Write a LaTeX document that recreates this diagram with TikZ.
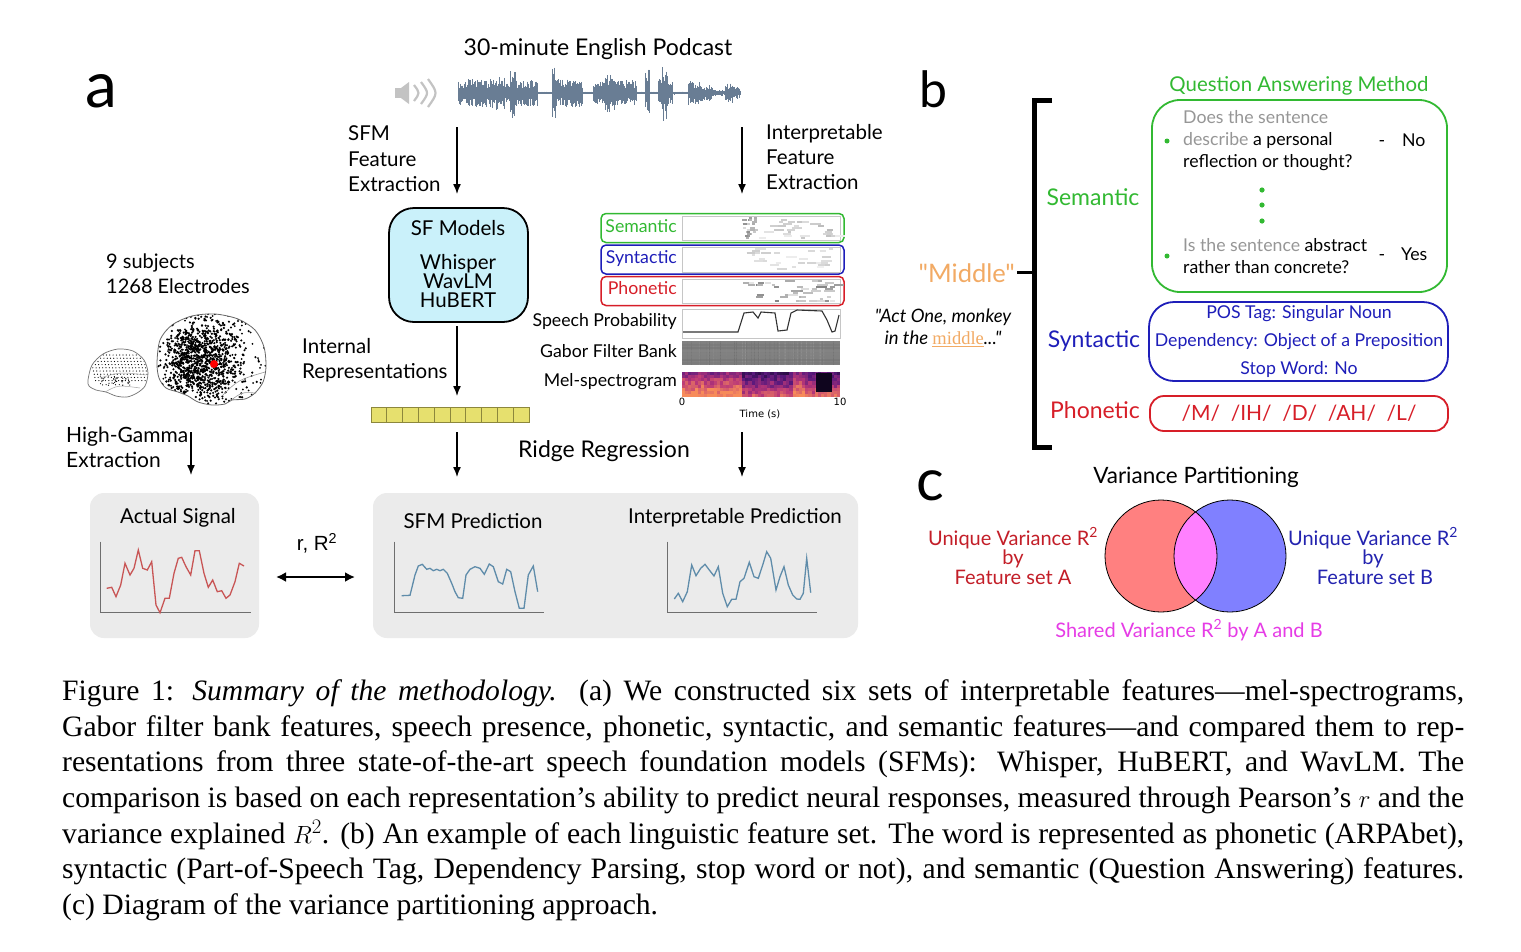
\documentclass[tikz,border=0pt]{standalone}
\usepackage{fontspec}
\setmainfont{Liberation Serif}
\newfontfamily\lato{Lato}
\newfontfamily\arialf{Liberation Sans}
\newfontfamily\djv{DejaVu Sans}
\usetikzlibrary{arrows.meta}
\newcommand\fsz[1]{\fontsize{#1}{#1}\selectfont}
\definecolor{semg}{RGB}{50,185,50}
\definecolor{synb}{RGB}{30,30,185}
\definecolor{phor}{RGB}{215,30,40}
\definecolor{midor}{RGB}{242,170,100}
\definecolor{graybox}{RGB}{235,235,235}
\definecolor{sfcyan}{RGB}{202,241,250}
\definecolor{yel}{RGB}{230,224,110}
\definecolor{yelb}{RGB}{140,135,60}
\definecolor{wavec}{RGB}{105,125,148}
\definecolor{sigred}{RGB}{200,85,85}
\definecolor{sigblue}{RGB}{95,140,170}
\definecolor{axisg}{RGB}{110,110,110}
\definecolor{qgray}{RGB}{150,150,150}
\definecolor{vred}{RGB}{255,128,128}
\definecolor{vblue}{RGB}{128,128,255}
\definecolor{vmag}{RGB}{255,128,255}
\definecolor{txtred}{RGB}{195,30,40}
\definecolor{txtblue}{RGB}{35,35,175}
\definecolor{txtmag}{RGB}{230,60,230}
\definecolor{spk}{RGB}{195,195,195}
\definecolor{mg1}{RGB}{25,8,50}
\definecolor{mg2}{RGB}{90,25,125}
\definecolor{mg3}{RGB}{185,55,120}
\definecolor{mg4}{RGB}{248,140,90}
\begin{document}
\begin{tikzpicture}[x=1pt,y=-1pt,
  lab/.style={inner sep=0pt, yshift=-4pt, font=\lato\fsz{20.5}},
  lab21/.style={inner sep=0pt, yshift=-3.5pt, font=\lato\fsz{23}},
  flab/.style={inner sep=0pt, yshift=-1.5pt, font=\lato\fsz{17.7}},
  qa/.style={inner sep=0pt, yshift=-2pt, font=\lato\fsz{17.7}},
  venn/.style={inner sep=0pt, yshift=-3pt, font=\lato\fsz{20}},
  big/.style={inner sep=0pt, font=\lato\fsz{52}},
  capline/.style={inner sep=0pt, anchor=base west, font=\fsz{29.6}},
  arr/.style={-{Latex[length=10pt,width=8pt]}, line width=1.4pt},
  fbox/.style={rounded corners=5pt, line width=1.5pt, minimum width=243pt, minimum height=29pt, inner sep=0pt},
  gbox/.style={fill=graybox, rounded corners=14pt, minimum height=145pt, inner sep=0pt},
  axisline/.style={axisg, line width=1.2pt},
  wave/.style={wavec, line width=0.9pt},
  imgframe/.style={draw=gray!45, line width=0.5pt, fill=white}
]
\useasboundingbox (0,0) rectangle (1521,951);
\fill[white] (0,0) rectangle (1521,951);
\pgfmathsetseed{7}

% ---------------- panel labels
\node[big, font=\lato\fsz{64}] (pa) at (101,91) {a};
\node[big, font=\lato\fsz{50}] (pb) at (933,89) {b};
\node[big, font=\lato\fsz{58}] (pc) at (930,486) {c};

% ---------------- podcast
\node[lab21, anchor=mid] (pod) at (598,50) {30-minute English Podcast};
\fill[spk] (395,88) rectangle (401,98);
\fill[spk] (401,88) -- (409,82) -- (409,104) -- (401,98) -- cycle;
\draw[spk, line width=2.2pt] (414,85) .. controls (420,93) .. (414,101);
\draw[spk, line width=2.2pt] (421,82) .. controls (429,93) .. (421,104);
\draw[spk, line width=2.2pt] (428,79) .. controls (438,93) .. (428,107);
\draw[wavec, line width=1pt] (458,93) -- (740,93);
\foreach \xa/\xb/\amp in {458/468/12, 468/490/14, 490/505/17, 505/510/10, 510/516/27, 516/537/13, 537/552/1.5, 552/556/27, 556/583/14, 583/593/1.5, 593/605/14, 605/615/19, 615/637/13, 637/645/1.5, 645/650/24, 650/658/1.5, 658/662/14, 662/668/28, 668/673/12, 673/688/1.5, 688/700/12, 700/713/8, 713/725/3, 725/733/10, 733/740/6} {
  \pgfmathtruncatemacro\nn{(\xb-\xa)/0.7}
  \foreach \k in {0,...,\nn} {
    \pgfmathsetmacro\xx{\xa+0.7*\k}
    \pgfmathsetmacro\up{\amp*(0.35+0.65*rnd)}
    \pgfmathsetmacro\dn{\amp*(0.35+0.65*rnd)}
    \draw[wave] (\xx,93-\up) -- (\xx,93+\dn);
  }
}

% ---------------- extraction arrows and labels
\coordinate (a1s) at (457,127); \coordinate (a1e) at (457,194);
\coordinate (a2s) at (742,127); \coordinate (a2e) at (742,194);
\draw[arr] (a1s) -- (a1e);
\draw[arr] (a2s) -- (a2e);
\node[lab, anchor=mid west] (sfm1) at (348,134) {SFM};
\node[lab, anchor=mid west] (sfm2) at (348,160) {Feature};
\node[lab, anchor=mid west] (sfm3) at (348,185) {Extraction};
\node[lab, anchor=mid west] (ife1) at (766,133) {Interpretable};
\node[lab, anchor=mid west] (ife2) at (766,158) {Feature};
\node[lab, anchor=mid west] (ife3) at (766,183) {Extraction};

% ---------------- SF models box
\node[draw, fill=sfcyan, rounded corners=25pt, line width=1.8pt, minimum width=139pt, minimum height=114pt, inner sep=0pt] (sf) at (458.5,265) {};
\node[lab, anchor=mid] (sft) at (458,229) {SF Models};
\node[lab, anchor=mid] (sfw) at (458,263) {Whisper};
\node[lab, anchor=mid] (sfv) at (458,282) {WavLM};
\node[lab, anchor=mid] (sfh) at (458,301) {HuBERT};

\coordinate (a3s) at (457,326); \coordinate (a3e) at (457,396);
\draw[arr] (a3s) -- (a3e);
\node[lab, anchor=mid west] (ir1) at (302,347) {Internal};
\node[lab, anchor=mid west] (ir2) at (302,372) {Representations};
\foreach \i in {0,...,9} {
  \draw[fill=yel, draw=yelb, line width=0.8pt] (371+\i*15.8,407) rectangle ++(15.8,15);
}
\coordinate (a4s) at (457,432); \coordinate (a4e) at (457,477);
\coordinate (a5s) at (742,432); \coordinate (a5e) at (742,477);
\draw[arr] (a4s) -- (a4e);
\draw[arr] (a5s) -- (a5e);
\node[lab21, anchor=mid] (ridge) at (604,452) {Ridge Regression};

% ---------------- interpretable features
\node[fbox, draw=semg] (fsem) at (722.5,228) {};
\node[fbox, draw=synb] (fsyn) at (722.5,259.5) {};
\node[fbox, draw=phor] (fpho) at (722.5,291) {};
\draw[imgframe] (682,216) rectangle (840,240);
\draw[imgframe] (682,247) rectangle (840,272);
\draw[imgframe] (682,279) rectangle (840,303);
\node[flab, anchor=mid east, text=semg] (lsem) at (677,229) {Semantic};
\node[flab, anchor=mid east, text=synb] (lsyn) at (677,260) {Syntactic};
\node[flab, anchor=mid east, text=phor] (lpho) at (677,291) {Phonetic};
\node[flab, anchor=mid east] (lsp) at (677,323) {Speech Probability};
\node[flab, anchor=mid east] (lgb) at (677,354) {Gabor Filter Bank};
\node[flab, anchor=mid east] (lmel) at (677,383) {Mel-spectrogram};
% semantic marks
\foreach \i in {1,...,40} {
  \pgfmathsetmacro\xx{742+rnd*13}
  \pgfmathsetmacro\yy{218+floor(rnd*11)*2}
  \pgfmathtruncatemacro\gg{15+rnd*30}
  \draw[black!\gg, line width=1.3pt] (\xx,\yy) -- ++(3,0);
}
\foreach \i in {1,...,30} {
  \pgfmathsetmacro\xx{758+rnd*78}
  \pgfmathsetmacro\yy{218+floor(rnd*11)*2}
  \pgfmathtruncatemacro\gg{8+rnd*20}
  \draw[black!\gg, line width=1.2pt] (\xx,\yy) -- ++(3+rnd*8,0);
}
% syntactic marks
\foreach \i in {1,...,30} {
  \pgfmathsetmacro\xx{745+rnd*90}
  \pgfmathsetmacro\yy{249+floor(rnd*11)*2}
  \pgfmathtruncatemacro\gg{6+rnd*15}
  \draw[black!\gg, line width=1.2pt] (\xx,\yy) -- ++(3+rnd*8,0);
}
% phonetic marks
\foreach \i in {1,...,45} {
  \pgfmathsetmacro\xx{742+rnd*93}
  \pgfmathsetmacro\yy{281+floor(rnd*11)*2}
  \pgfmathtruncatemacro\gg{10+rnd*40}
  \draw[black!\gg, line width=1.2pt] (\xx,\yy) -- ++(3+rnd*8,0);
}
% speech probability
\draw[imgframe] (682,309) rectangle (840,338);
\draw[black!80, line width=1.1pt] plot coordinates {(683,332) (738,332) (744,313) (753,312) (758,318) (761,312) (775,313) (778,331) (787,330) (791,313) (797,310) (822,311) (827,320) (832,332) (835,331) (839,315)};
% gabor
\fill[black!50] (682,341) rectangle (840,365);
\foreach \i in {1,...,70} {
  \pgfmathsetmacro\xx{682.5+rnd*157}
  \pgfmathtruncatemacro\gg{44+rnd*12}
  \draw[black!\gg, line width=0.6pt] (\xx,341) -- (\xx,365);
}
\foreach \r in {0,...,7} {
  \pgfmathtruncatemacro\gg{46+rnd*10}
  \fill[black!\gg, opacity=0.5] (682,341+\r*3) rectangle (840,342.5+\r*3);
}
% mel spectrogram
\foreach \c in {0,...,49} {
  \foreach \r in {0,...,7} {
    \pgfmathsetmacro\xx{682+\c*3.16}
    \pgfmathsetmacro\yy{372+\r*3.125}
    \pgfmathsetmacro\tt{min(0.999,max(0,0.36+0.08*\r+0.28*rnd-0.28*((\xx>740)*(\xx<792))-0.2*((\xx>805)*(\xx<838))))}
    \pgfmathtruncatemacro\seg{min(2,floor(3*\tt))}
    \pgfmathtruncatemacro\pc{(3*\tt-\seg)*100}
    \ifcase\seg \colorlet{cc}{mg2!\pc!mg1}\or \colorlet{cc}{mg3!\pc!mg2}\else \colorlet{cc}{mg4!\pc!mg3}\fi
    \fill[cc] (\xx,\yy) rectangle ++(3.3,3.25);
  }
}
\fill[mg1!60!black] (816,373) rectangle (832,392);
\node[inner sep=0pt, font=\djv\fsz{10}, anchor=mid] (t0) at (682,403) {0};
\node[inner sep=0pt, font=\djv\fsz{10}, anchor=mid] (t10) at (840,403) {10};
\node[inner sep=0pt, font=\djv\fsz{10}, anchor=mid] (tlab) at (760,415) {Time (s)};

% ---------------- brain
\node[lab, anchor=mid west, font=\lato\fsz{20}] (subj1) at (106,262) {9 subjects};
\node[lab, anchor=mid west, font=\lato\fsz{20}] (subj2) at (106,287) {1268 Electrodes};
% small brain
\begin{scope}
\clip plot[smooth cycle] coordinates {(88,380) (92,365) (103,354) (118,349) (133,351) (144,360) (148,373) (145,386) (137,393) (127,397) (116,396) (106,392) (96,390) (89,386)};
\foreach \r in {0,...,8} { \foreach \c in {0,...,16} { \fill (90+\c*3.3+\r*0.7, 355+\r*3.2) circle (0.6pt); } }
\foreach \i in {1,...,40} { \fill (100+rnd*30, 376+rnd*10) circle (0.6pt); }
\end{scope}
\draw[black!55, line width=0.7pt] plot[smooth cycle] coordinates {(88,380) (92,365) (103,354) (118,349) (133,351) (144,360) (148,373) (145,386) (137,393) (127,397) (116,396) (106,392) (96,390) (89,386)};
\draw[black!35, line width=0.5pt] (105,392) .. controls (118,385) .. (140,388);
\draw[black!35, line width=0.5pt] (100,378) .. controls (120,372) .. (146,375);
% big brain
\begin{scope}
\clip plot[smooth cycle] coordinates {(157,363) (160,340) (172,325) (192,316) (215,314) (238,319) (255,330) (264,347) (266,367) (263,382) (255,393) (245,399) (232,400) (225,404) (212,405) (198,402) (188,396) (178,392) (166,388) (159,378)};
\foreach \i in {1,...,1100} {
  \pgfmathsetmacro\dx{(rnd+rnd+rnd-1.5)*40}
  \pgfmathsetmacro\dy{(rnd+rnd+rnd-1.5)*40}
  \fill (201+\dx,360+\dy) circle (1.2pt);
}
\foreach \i in {1,...,130} { \fill (157+rnd*110, 314+rnd*90) circle (1pt); }
\end{scope}
\draw[black!60, line width=0.8pt] plot[smooth cycle] coordinates {(157,363) (160,340) (172,325) (192,316) (215,314) (238,319) (255,330) (264,347) (266,367) (263,382) (255,393) (245,399) (232,400) (225,404) (212,405) (198,402) (188,396) (178,392) (166,388) (159,378)};
\draw[black!40, line width=0.6pt] (222,396) .. controls (238,380) .. (265,372);
\draw[black!40, line width=0.6pt] (230,401) .. controls (242,392) .. (256,393);
\fill[red] (214,364) circle (4pt);

% ---------------- high gamma
\node[lab, anchor=mid west, font=\lato\fsz{21}] (hg1) at (66,436) {High-Gamma};
\node[lab, anchor=mid west, font=\lato\fsz{21}] (hg2) at (66,461) {Extraction};
\coordinate (a6s) at (191,432); \coordinate (a6e) at (191,475);
\draw[arr] (a6s) -- (a6e);

% ---------------- bottom boxes
\node[gbox, minimum width=169pt] (actbox) at (174.5,565.5) {};
\node[gbox, minimum width=485pt] (predbox) at (615.5,565.5) {};
\node[lab, anchor=mid] (act) at (178,517) {Actual Signal};
\node[lab, anchor=mid] (sfmp) at (473,522) {SFM Prediction};
\node[lab, anchor=mid] (intp) at (735,517) {Interpretable Prediction};
\draw[axisline] (100.7,541.7) -- (100.7,612.7) -- (250.7,612.7);
\draw[axisline] (394.3,541.7) -- (394.3,612.7) -- (544,612.7);
\draw[axisline] (667.3,541.7) -- (667.3,612.7) -- (816.7,612.7);
\draw[sigred, line width=1.3pt] plot coordinates {(106.7,588.3) (111.7,587.3) (116,596.7) (120.7,585) (125,563.3) (130,575) (134,568.3) (138.3,550) (142.7,568.3) (147.3,570) (151.7,561.7) (156,605) (160,612.7) (165,598.3) (169.3,598.3) (174,573.3) (178.3,558.3) (181.7,557.3) (186,566.7) (190.7,575) (195,550.7) (199.3,550.7) (204,573.3) (208.3,587.3) (212.7,580) (217.3,591.7) (221.7,590.7) (226,598.3) (230,595) (235,581.7) (239.3,563.3) (244,566)};
\draw[sigblue, line width=1.3pt] plot coordinates {(401.7,595.7) (410,595.3) (415,575) (418.3,566) (422.3,564.3) (426.7,569.3) (430,568.3) (433.3,570.7) (436.7,569.3) (440,570.7) (443.3,569.3) (447.3,573.3) (451.7,583.3) (455,591.7) (458.3,597.7) (462.7,598.3) (466,575) (470,569.3) (475,566.7) (480,568.3) (484.3,574.3) (489.3,564) (493.3,566.7) (498.3,581.7) (502.7,584) (506.7,569.3) (510.7,571.7) (515,591.7) (519.3,608.3) (524,608.3) (528.3,575) (533.3,566) (537.7,591.7)};
\draw[sigblue, line width=1.3pt] plot coordinates {(674.3,599) (678.3,593.3) (682.7,601.7) (687.3,591.7) (691.7,565) (696,575.7) (700.7,568.3) (705,564.3) (709.3,570) (714,576) (718.3,566.7) (722.7,593.3) (727.3,606.7) (731.7,599.3) (736,599.3) (740,581.7) (744,578.3) (749.3,562.3) (754,576.7) (758.3,578.3) (762.7,565) (766.7,551.7) (770.7,558.3) (776,590) (780,576.7) (784,566.7) (788.3,585) (792.7,595) (796.7,599) (800,599.3) (803.3,593.3) (806.7,558.3) (810.7,592.7)};
\node[inner sep=0pt, yshift=-3.5pt, font=\arialf\fsz{20.5}, anchor=mid] (rr) at (317,545) {r, R\textsuperscript{2}};
\coordinate (dA) at (276,577); \coordinate (dB) at (355,577);
\draw[{Latex[length=10pt,width=10pt]}-{Latex[length=10pt,width=10pt]}, line width=2.4pt] (dA) -- (dB);

% ---------------- panel b
\draw[line width=5pt] (1052,100) -- (1034,100) -- (1034,447) -- (1052,447);
\draw[line width=3pt] (1017,272) -- (1034,272);
\node[inner sep=0pt, yshift=-4pt, font=\lato\fsz{25.5}, text=midor, anchor=mid east] (mid) at (1015,276) {"Middle"};
\node[inner sep=0pt, yshift=-2pt, font=\lato\itshape\fsz{18.5}, anchor=mid] (quo1) at (943,318) {"Act One, monkey};
\node[inner sep=0pt, yshift=-2pt, font=\lato\itshape\fsz{18.5}, anchor=mid] (quo2) at (943,340) {in the \textcolor{midor}{\upshape\rmfamily\underline{middle}}..."};
\node[inner sep=0pt, yshift=-3pt, font=\lato\fsz{20.4}, text=semg, anchor=mid] (qam) at (1299,86) {Question Answering Method};
\node[draw=semg, line width=1.8pt, rounded corners=28pt, minimum width=295pt, minimum height=192pt, inner sep=0pt] (qabox) at (1299.5,196) {};
\node[lab21, text=semg, anchor=mid] (bsem) at (1093,200) {Semantic};
\node[lab21, text=synb, anchor=mid] (bsyn) at (1094,342) {Syntactic};
\node[lab21, text=phor, anchor=mid] (bpho) at (1095,413) {Phonetic};
\fill[semg] (1167,141) circle (2.5pt);
\fill[semg] (1167,256) circle (2.5pt);
\fill[semg] (1262,190) circle (2.6pt);
\fill[semg] (1262,205) circle (2.6pt);
\fill[semg] (1262,221) circle (2.6pt);
\node[qa, anchor=mid west, text=qgray] (q1a) at (1183,119) {Does the sentence};
\node[qa, anchor=mid west] (q1b) at (1183,141) {\textcolor{qgray}{describe} a personal};
\node[qa, anchor=mid west] (q1c) at (1183,163) {reflection or thought?};
\node[qa, anchor=mid] (q1d) at (1382,142) {-};
\node[qa, anchor=mid west] (q1e) at (1402,142) {No};
\node[qa, anchor=mid west] (q2a) at (1183,247) {\textcolor{qgray}{Is the sentence} abstract};
\node[qa, anchor=mid west] (q2b) at (1183,269) {rather than concrete?};
\node[qa, anchor=mid] (q2d) at (1382,256) {-};
\node[qa, anchor=mid west] (q2e) at (1401,256) {Yes};
\node[draw=synb, line width=1.8pt, rounded corners=25pt, minimum width=299pt, minimum height=79pt, inner sep=0pt] (synbox) at (1298.5,341.5) {};
\node[qa, text=synb, anchor=mid] (s1) at (1299,314) {POS Tag: Singular Noun};
\node[qa, text=synb, anchor=mid] (s2) at (1299,342) {Dependency: Object of a Preposition};
\node[qa, text=synb, anchor=mid] (s3) at (1299,370) {Stop Word: No};
\node[draw=phor, line width=1.8pt, rounded corners=14pt, minimum width=298pt, minimum height=35pt, inner sep=0pt] (phobox) at (1299,413.5) {};
\node[inner sep=0pt, yshift=-3pt, font=\lato\fsz{21}, text=phor, anchor=mid] (ph) at (1299,415) {/M/\ \ /IH/\ \ /D/\ \ /AH/\ \ /L/};

% ---------------- panel c
\node[inner sep=0pt, yshift=-3.5pt, font=\lato\fsz{22.5}, anchor=mid] (vp) at (1196,478) {Variance Partitioning};
\fill[vred] (1161,556) circle (56pt);
\fill[vblue] (1230,556) circle (56pt);
\begin{scope}
\clip (1161,556) circle (56pt);
\fill[vmag] (1230,556) circle (56pt);
\end{scope}
\draw[line width=0.8pt] (1161,556) circle (56pt);
\draw[line width=0.8pt] (1230,556) circle (56pt);
\node[venn, text=txtred, anchor=mid] (ua1) at (1013,540) {Unique Variance R\textsuperscript{2}};
\node[venn, text=txtred, anchor=mid] (ua2) at (1013,559) {by};
\node[venn, text=txtred, anchor=mid] (ua3) at (1013,579) {Feature set A};
\node[venn, text=txtblue, anchor=mid] (ub1) at (1373,540) {Unique Variance R\textsuperscript{2}};
\node[venn, text=txtblue, anchor=mid] (ub2) at (1373,559) {by};
\node[venn, text=txtblue, anchor=mid] (ub3) at (1375,579) {Feature set B};
\node[venn, text=txtmag, anchor=mid] (sh) at (1189,632) {Shared Variance R\textsuperscript{2} by A and B};

% ---------------- caption
\node[capline] (cap1) at (62,700) {\makebox[1402pt][s]{Figure 1: \textit{Summary of the methodology.} (a) We constructed six sets of interpretable features—mel-spectrograms,}};
\node[capline] (cap2) at (62,736) {\makebox[1402pt][s]{Gabor filter bank features, speech presence, phonetic, syntactic, and semantic features—and compared them to rep-}};
\node[capline] (cap3) at (62,771) {\makebox[1402pt][s]{resentations from three state-of-the-art speech foundation models (SFMs): Whisper, HuBERT, and WavLM. The}};
\node[capline] (cap4) at (62,807) {\makebox[1402pt][s]{comparison is based on each representation’s ability to predict neural responses, measured through Pearson’s $r$ and the}};
\node[capline] (cap5) at (62,843) {\makebox[1402pt][s]{variance explained $R^2$. (b) An example of each linguistic feature set. The word is represented as phonetic (ARPAbet),}};
\node[capline] (cap6) at (62,878) {\makebox[1402pt][s]{syntactic (Part-of-Speech Tag, Dependency Parsing, stop word or not), and semantic (Question Answering) features.}};
\node[capline] (cap7) at (62,914) {(c) Diagram of the variance partitioning approach.};
\end{tikzpicture}
\end{document}
